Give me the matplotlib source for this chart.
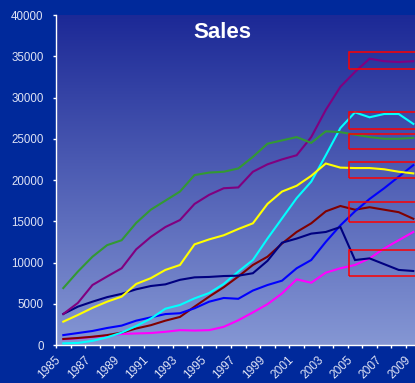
import numpy as np
import matplotlib
matplotlib.use("Agg")
import matplotlib.pyplot as plt
from matplotlib.patches import Rectangle
from matplotlib.colors import LinearSegmentedColormap

years = list(range(1985, 2010))

green = [6900, 8900, 10700, 12100, 12700, 14800, 16400, 17500, 18600, 20600, 20900, 21000, 21400,
         22800, 24400, 24800, 25200, 24500, 25900, 25800, 25500, 25200, 25000, 25000, 25100]
purple = [3760, 5100, 7270, 8300, 9300, 11600, 13100, 14300, 15150, 17100, 18200, 19000, 19100,
          21000, 21900, 22500, 23000, 25200, 28500, 31300, 33100, 34700, 34400, 34300, 34400]
navy = [3760, 4650, 5250, 5800, 6200, 6750, 7150, 7350, 7900, 8200, 8250, 8360, 8400,
        8700, 10200, 12400, 12900, 13500, 13700, 14300, 10300, 10500, 9800, 9100, 8970]
yellow = [2830, 3640, 4500, 5250, 5860, 7400, 8100, 9100, 9700, 12200, 12800, 13300, 14060,
          14750, 17100, 18600, 19300, 20500, 22000, 21500, 21450, 21450, 21300, 21000, 20800]
cyan = [200, 250, 500, 930, 1500, 2300, 3200, 4400, 4850, 5650, 6300, 7400, 8900,
        10300, 12900, 15350, 17800, 19800, 23000, 26300, 28200, 27600, 28000, 28000, 26800]
darkred = [730, 850, 1000, 1200, 1500, 2000, 2400, 2950, 3400, 4650, 5860, 7000, 8300,
           9700, 10700, 12300, 13700, 14750, 16200, 16850, 16400, 16700, 16400, 16100, 15300]
blue = [1200, 1450, 1700, 2060, 2350, 2950, 3350, 3750, 3850, 4450, 5250, 5700, 5600,
        6600, 7270, 7800, 9300, 10300, 12500, 14500, 16200, 17700, 19000, 20400, 21800]
magenta = [700, 820, 980, 1150, 1330, 1400, 1450, 1600, 1800, 1750, 1800, 2200, 3000,
           3950, 4950, 6250, 7960, 7550, 8770, 9300, 9700, 10500, 11700, 12700, 13700]

series = [
    (magenta, "#ff00ff"),
    (darkred, "#800000"),
    (blue, "#0000ff"),
    (cyan, "#00ffff"),
    (navy, "#000080"),
    (yellow, "#ffff00"),
    (purple, "#800080"),
    (green, "#339933"),
]

# highlighted ranges (annotation boxes), start year index and value ranges
box_start = 19.6
box_ranges = [(33450, 35500), (26200, 28200), (23800, 25600), (20200, 22200), (14900, 17300), (8400, 11500)]

yticks = list(range(0, 40001, 5000))
xlabels = [str(y) if (y - 1985) % 2 == 0 else "" for y in years]

plt.rcParams['font.family'] = ['Liberation Sans', 'DejaVu Sans']

fig = plt.figure(figsize=(4.15, 3.83), dpi=100)
fig.patch.set_facecolor("#00299b")
ax = fig.add_axes([56 / 415, 38 / 383, 364.6 / 415, 330 / 383])
ax.set_facecolor("none")

cmap = LinearSegmentedColormap.from_list("g", [(0.52, 0.59, 0.83), (0.11, 0.16, 0.59)])
grad = np.linspace(0, 1, 256).reshape(-1, 1)
ax.imshow(grad, extent=(0, 1, 0, 1), transform=ax.transAxes, cmap=cmap,
          aspect="auto", origin="lower", zorder=0)

x = np.arange(len(years))
for vals, col in series:
    ax.plot(x, vals, color=col, lw=1.5, zorder=3, solid_joinstyle="miter")

for lo, hi in box_ranges:
    ax.add_patch(Rectangle((box_start, lo), 6, hi - lo, fill=False, edgecolor="#ff0000",
                           lw=1.1, zorder=4))

ax.set_xlim(-0.5, len(years) - 0.5)
ax.set_ylim(0, 40000)
ax.set_yticks(yticks)
ax.set_yticklabels([str(v) for v in yticks])
ax.set_xticks(x)
ax.set_xticklabels(xlabels, rotation=45, ha="right", va="top", rotation_mode="default")
ax.set_xticks(np.arange(-0.5, len(years), 1), minor=True)

for s in ["top", "right"]:
    ax.spines[s].set_visible(False)
for s in ["left", "bottom"]:
    ax.spines[s].set_color("white")
    ax.spines[s].set_linewidth(1.0)

ax.tick_params(axis="y", colors="white", labelcolor="#dfe3f5", length=2.5, width=1, pad=6.5, labelsize=8.3)
ax.tick_params(axis="x", which="major", length=0, pad=6.5, labelcolor="#dfe3f5", labelsize=8.6)
ax.tick_params(axis="x", which="minor", length=2.5, width=1, colors="white")

fig.text(222 / 415, 1 - 33 / 383, "Sales", color="white", fontsize=16, fontweight="bold",
         ha="center", va="center")

fig.savefig("out.png", dpi=100, facecolor=fig.get_facecolor())
